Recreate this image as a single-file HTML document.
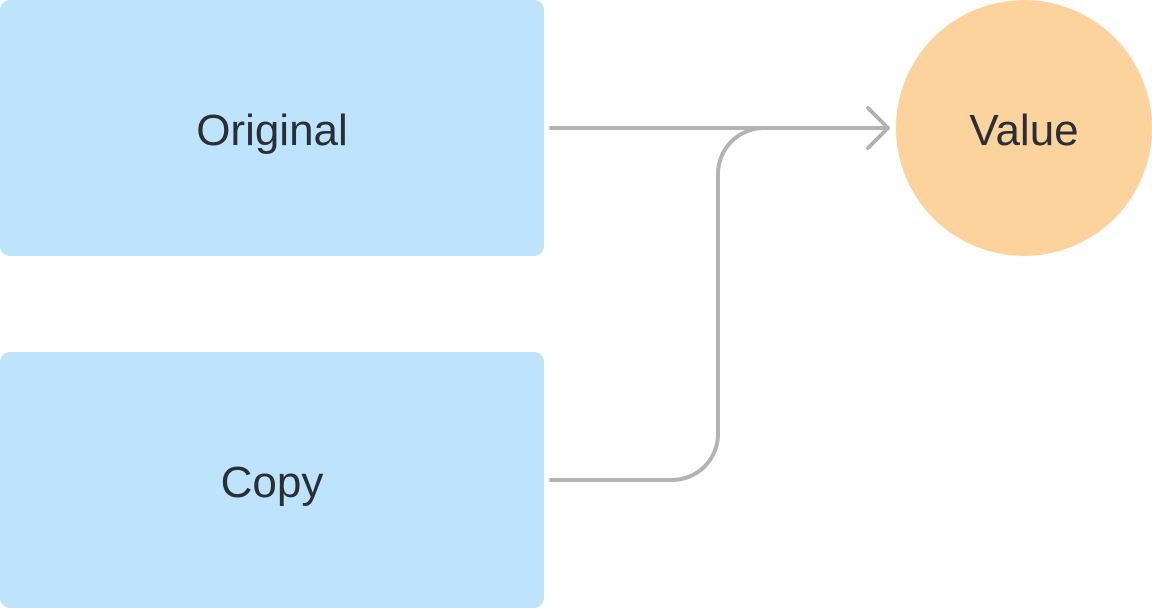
<!DOCTYPE html>
<html><head><meta charset="utf-8"><style>
html,body{margin:0;padding:0;background:#fff;}
body{width:1152px;height:608px;position:relative;overflow:hidden;font-family:"Liberation Sans",sans-serif;}
</style></head><body>
<svg width="1152" height="608" viewBox="0 0 1152 608" xmlns="http://www.w3.org/2000/svg">
<rect x="0" y="0" width="544" height="256" rx="10" fill="#bee3fd"/>
<rect x="0" y="352" width="544" height="256" rx="10" fill="#bee3fd"/>
<circle cx="1024" cy="128" r="128" fill="#fcd29d"/>
<g fill="none" stroke="#b3b3b3" stroke-width="4" stroke-linecap="round" stroke-linejoin="round">
<path d="M551 128 H888"/>
<path d="M868 108 L888 128 L868 148"/>
<path d="M551 480 H672 A46 46 0 0 0 718 434 V174 A46 46 0 0 1 764 128"/>
</g>
<g font-family="Liberation Sans, sans-serif" font-size="44" fill="#2a2f35" text-anchor="middle">
<text x="272" y="145">Original</text>
<text x="272" y="497">Copy</text>
<text x="1024" y="145">Value</text>
</g>
</svg>
</body></html>
